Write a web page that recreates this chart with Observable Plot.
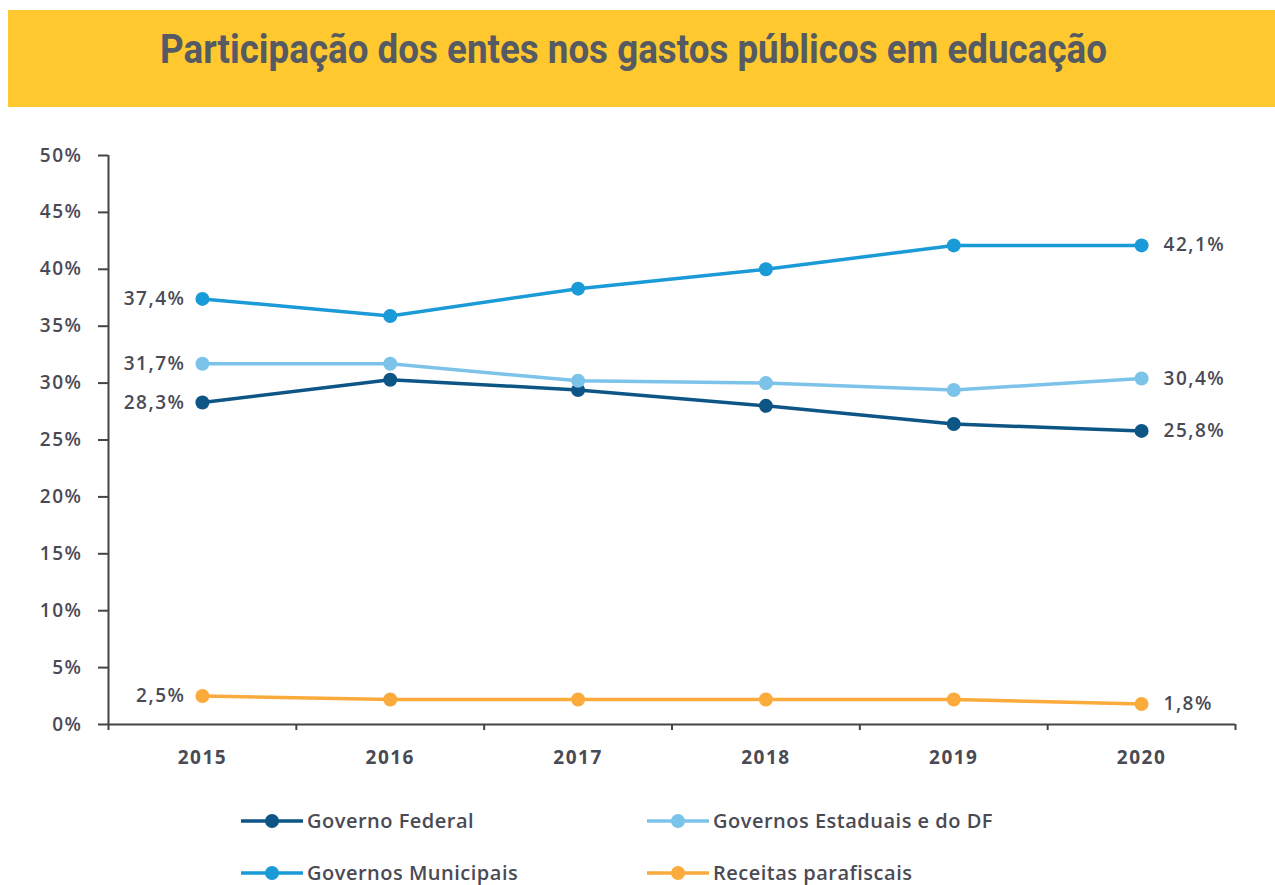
<!DOCTYPE html>
<html><head><meta charset="utf-8">
<script src="https://cdn.jsdelivr.net/npm/d3@7"></script>
<script src="https://cdn.jsdelivr.net/npm/@observablehq/plot@0.6"></script>
<style>
html,body{margin:0;padding:0;background:#fff;width:1275px;height:885px;overflow:hidden;}
#banner{position:absolute;left:8px;top:10px;width:1267px;height:97px;background:#FFC82E;}
#title{position:absolute;left:152px;top:16px;white-space:nowrap;font-family:Roboto,"DejaVu Sans",sans-serif;font-weight:bold;font-size:40px;color:#555A63;transform-origin:0 0;}
#chart{position:absolute;left:0;top:115px;}
#legend{position:absolute;left:0;top:807px;width:1275px;font-family:"Open Sans",sans-serif;font-size:20px;font-weight:600;letter-spacing:0.5px;color:#4a4a55;}
.item{position:absolute;display:flex;align-items:center;}
.item svg{margin-right:4px;}
</style></head>
<body>
<div id="banner"><div id="title">Participação dos entes nos gastos públicos em educação</div></div>
<div id="chart"></div>
<div id="legend"></div>
<script>
const years = [2015, 2016, 2017, 2018, 2019, 2020];
const seriesNames = ["Governo Federal", "Governos Estaduais e do DF", "Governos Municipais", "Receitas parafiscais"];
const seriesColors = ["#0D5585", "#7CC3EA", "#1A9AD6", "#FBAB3C"];
const federal    = [28.3, 30.3, 29.4, 28.0, 26.4, 25.8];
const estaduais  = [31.7, 31.7, 30.2, 30.0, 29.4, 30.4];
const municipais = [37.4, 35.9, 38.3, 40.0, 42.1, 42.1];
const parafiscais= [2.5, 2.2, 2.2, 2.2, 2.2, 1.8];
const yTicks = [0, 5, 10, 15, 20, 25, 30, 35, 40, 45, 50];

// fit title width to the reference span
const title = document.getElementById("title");
const tw = title.getBoundingClientRect().width;
title.style.transform = `scaleX(${947 / tw})`;

const seriesValues = [federal, estaduais, municipais, parafiscais];
const data = [];
seriesNames.forEach((s, i) => years.forEach((yr, j) => data.push({series: s, year: yr, value: seriesValues[i][j]})));
const boundaries = [...years.map(y => y - 0.5), years[years.length - 1] + 0.5];
const fmt = v => v.toFixed(1).replace(".", ",") + "%";
const first = data.filter(d => d.year === years[0]);
const last = data.filter(d => d.year === years[years.length - 1]);
const font = "Open Sans, sans-serif";
const textColor = "#4a4a55";

const plot = Plot.plot({
  width: 1275, height: 680,
  marginLeft: 108, marginRight: 40, marginTop: 40, marginBottom: 71,
  style: {fontFamily: font, fontSize: "19px", fontWeight: 600, letterSpacing: "1.5px", color: textColor, background: "transparent"},
  x: {type: "linear", domain: [years[0] - 0.5, years[years.length - 1] + 0.5]},
  y: {domain: [0, 50]},
  color: {domain: seriesNames, range: seriesColors},
  marks: [
    Plot.axisY({ticks: yTicks, tickSize: 10, tickPadding: 16, tickFormat: d => d + "%", label: null, fontSize: 19, stroke: "#444", strokeWidth: 2, fill: textColor}),
    Plot.ruleX([years[0] - 0.5], {y1: 0, y2: 50, stroke: "#444", strokeWidth: 2}),
    Plot.axisX({ticks: years, tickSize: 0, tickPadding: 26, tickFormat: d => String(d), label: null, fontSize: 19, fontWeight: "bold", fill: textColor}),
    Plot.ruleY([0], {stroke: "#444", strokeWidth: 2}),
    Plot.ruleX(boundaries, {x: d => d, y1: 0, y2: 0, insetBottom: -6, stroke: "#444", strokeWidth: 2}),
    Plot.line(data, {x: "year", y: "value", z: "series", stroke: "series", strokeWidth: 3.5}),
    Plot.dot(data, {x: "year", y: "value", fill: "series", r: 7}),
    Plot.text(first, {x: "year", y: "value", text: d => fmt(d.value), textAnchor: "end", dx: -17, fontSize: 19, fill: textColor}),
    Plot.text(last, {x: "year", y: "value", text: d => fmt(d.value), textAnchor: "start", dx: 22, fontSize: 19, fill: textColor})
  ]
});
document.getElementById("chart").appendChild(plot);

const legend = document.getElementById("legend");
const pos = [[241, 0], [647, 0], [241, 52], [647, 52]];
seriesNames.forEach((s, i) => {
  const div = document.createElement("div");
  div.className = "item";
  div.style.left = pos[i][0] + "px";
  div.style.top = pos[i][1] + "px";
  div.innerHTML = `<svg width="62" height="20"><line x1="0" x2="62" y1="10" y2="10" stroke="${seriesColors[i]}" stroke-width="3.5"/><circle cx="31" cy="10" r="7" fill="${seriesColors[i]}"/></svg><span>${s}</span>`;
  legend.appendChild(div);
});
</script>
</body></html>
